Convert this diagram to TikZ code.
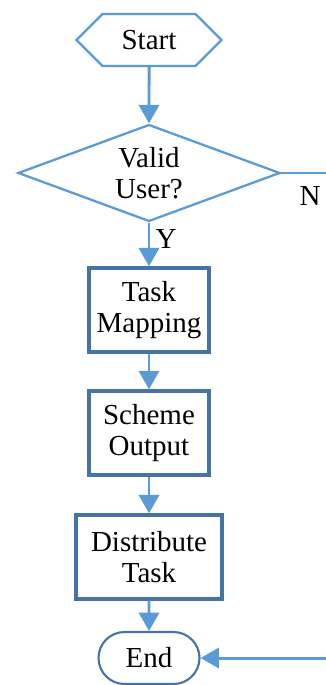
\documentclass[tikz,border=0pt]{standalone}
\usepackage{fontspec}
\setmainfont{Liberation Serif}
\newfontfamily\flowfont{Liberation Serif}
\usetikzlibrary{shapes.geometric,shapes.misc,shapes.symbols,arrows.meta}
\definecolor{flowline}{HTML}{5B9BD5}
\definecolor{boxline}{HTML}{4474A6}

\begin{document}
\begin{tikzpicture}[x=0.02cm,y=-0.02cm,
  every node/.style={font=\flowfont\fontsize{16.5}{17.5}\selectfont,align=center,inner sep=0pt},
  hexbox/.style={shape=signal,signal to=east and west,signal pointer angle=90,draw=flowline,line width=1.3pt,minimum width=2.9cm,minimum height=1.04cm},
  decision/.style={diamond,aspect=2.7,draw=flowline,line width=1.3pt,minimum width=5.24cm,minimum height=1.94cm},
  procbox/.style={rectangle,draw=boxline,line width=1.9pt,minimum width=2.4cm,minimum height=1.68cm},
  endbox/.style={rounded rectangle,draw=boxline,line width=1.2pt,minimum width=2.02cm,minimum height=1.04cm},
  flow/.style={draw=flowline,line width=1.7pt,-{Triangle[width=11.5pt,length=10.5pt]}},
  tag/.style={font=\flowfont\fontsize{16.5}{17.5}\selectfont}
]
\useasboundingbox (0,0) rectangle (325,685);
\pgfmathsetmacro{\colx}{149}

\node[hexbox] (start) at (\colx,40) {Start};
\node[decision] (valid) at (\colx,173) {Valid\\User?};
\node[procbox] (mapping) at (\colx,310) {Task\\Mapping};
\node[procbox] (scheme) at (\colx,433) {Scheme\\Output};
\node[procbox,minimum width=2.92cm] (distribute) at (\colx,557) {Distribute\\Task};
\node[endbox] (end) at (\colx,658) {End};
\coordinate (loop) at (350,173);

\node[tag] (no) at (310,196) {N};
\node[tag] (yes) at (166,239) {Y};

\draw[flow] (start) -- (valid);
\draw[flow] (valid) -- (mapping);
\draw[flow] (mapping) -- (scheme);
\draw[flow] (scheme) -- (distribute);
\draw[flow] (distribute) -- (end);
\draw[flow] (valid.east) -- (loop) |- (end.east);
\end{tikzpicture}
\end{document}
